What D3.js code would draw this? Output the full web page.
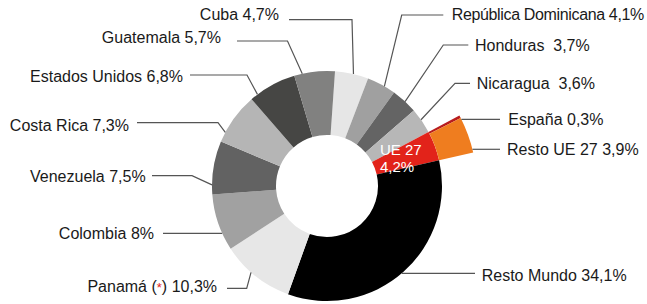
<!DOCTYPE html>
<html>
<head>
<meta charset="utf-8">
<script src="https://cdn.jsdelivr.net/npm/d3@7"></script>
<style>
  html, body { margin: 0; padding: 0; background: #fff; }
  svg { display: block; }
  .label { font-family: "Liberation Sans", Arial, sans-serif; font-size: 16px; fill: #1a1a1a; white-space: pre; }
  .leader { fill: none; stroke: #555; stroke-width: 1.2; }
</style>
</head>
<body>
<div id="chart"></div>
<script>
// main ring, clockwise from the top
const categories = ["Cuba", "República Dominicana", "Honduras", "Nicaragua", "UE 27", "Resto Mundo",
    "Panamá", "Colombia", "Venezuela", "Costa Rica", "Estados Unidos", "Guatemala"];
const values = [4.7, 4.1, 3.7, 3.6, 4.2, 34.1, 10.3, 8, 7.5, 7.3, 6.8, 5.7];
const colors = ["#e6e6e6", "#a0a0a0", "#646464", "#b7b7b7", "#e2231a", "#000000",
    "#e7e7e7", "#a1a1a1", "#626262", "#b5b5b5", "#464644", "#818180"];

// UE 27 breakdown, drawn as an exploded outer ring
const ueCategories = ["España", "Resto UE 27"];
const ueValues = [0.3, 3.9];
const ueColors = ["#b81c1e", "#ef7d1f"];

// separators between name and value in the printed labels
const separators = {"Honduras": "  ", "Nicaragua": "  "};
const notes = {"Panamá": "*"};

const width = 647, height = 304;
const cx = 327, cy = 186;
const innerR = 51, outerR = 115, ueR = 150;
const startAngle = 4 * Math.PI / 180;

// label placement: text anchor point, leader line start, elbow and where it meets the slice
const layout = {
    "Cuba":                 {x: 279,   y: 14.5,  anchor: "end",   lineY: 19.7,  from: 289,   elbow: 352,   t: 0.55},
    "República Dominicana": {x: 451.7, y: 14.7,  anchor: "start", lineY: 15,    from: 443.3, elbow: 401.7, t: 0.61, tight: true},
    "Honduras":             {x: 475,   y: 45,    anchor: "start", lineY: 45,    from: 468.3, elbow: 443.3, t: 0.53},
    "Nicaragua":            {x: 476.7, y: 83.3,  anchor: "start", lineY: 83.3,  from: 470,   elbow: 455,   t: 0.45},
    "Resto Mundo":          {x: 481.7, y: 275,   anchor: "start", lineY: 273.3, from: 475},
    "Panamá":               {x: 217,   y: 286.7, anchor: "end",   lineY: 288.3, from: 227,   elbow: 246.7, t: 0.58},
    "Colombia":             {x: 154,   y: 233,   anchor: "end",   lineY: 233.3, from: 163},
    "Venezuela":            {x: 145.7, y: 176,   anchor: "end",   lineY: 175.7, from: 152,   elbow: 192,   t: 0.18},
    "Costa Rica":           {x: 129,   y: 125,   anchor: "end",   lineY: 122.7, from: 137,   elbow: 218,   t: 0.195},
    "Estados Unidos":       {x: 183,   y: 76.5,  anchor: "end",   lineY: 75,    from: 190,   elbow: 247,   t: 0.155},
    "Guatemala":            {x: 221,   y: 37.5,  anchor: "end",   lineY: 41,    from: 237,   elbow: 287.5, t: 0.2},
    "España":               {x: 508.3, y: 119.5, anchor: "start", lineY: 119.3, from: 500},
    "Resto UE 27":          {x: 507,   y: 149.7, anchor: "start", lineY: 149.3, from: 500}
};

const fmt = (v) => String(v).replace(".", ",") + "%";

const svg = d3.select("#chart").append("svg")
    .attr("width", width)
    .attr("height", height);

const g = svg.append("g").attr("transform", `translate(${cx},${cy})`);

const pie = d3.pie().sort(null)
    .startAngle(startAngle)
    .endAngle(startAngle + 2 * Math.PI);

const slices = pie(values).map((d, i) => ({...d, name: categories[i], color: colors[i], r: outerR}));

const ueSlice = slices[categories.indexOf("UE 27")];
const uePie = d3.pie().sort(null)
    .startAngle(ueSlice.startAngle)
    .endAngle(ueSlice.endAngle);
const ueSlices = uePie(ueValues).map((d, i) => ({...d, name: ueCategories[i], color: ueColors[i], r: ueR}));

const arc = d3.arc().innerRadius(innerR).outerRadius(outerR);
const ueArc = d3.arc().innerRadius(outerR).outerRadius(ueR);

g.selectAll("path.slice")
    .data(slices)
    .join("path")
    .attr("class", "slice")
    .attr("d", arc)
    .attr("fill", d => d.color);

g.selectAll("path.ue")
    .data(ueSlices)
    .join("path")
    .attr("class", "ue")
    .attr("d", ueArc)
    .attr("fill", d => d.color);

// inner label of the UE 27 slice
const ueText = svg.append("text")
    .attr("class", "label")
    .style("fill", "#fff")
    .style("font-size", "15px")
    .attr("x", 380);
ueText.append("tspan").attr("x", 380).attr("y", 155).text("UE 27");
ueText.append("tspan").attr("x", 380).attr("y", 171.5).text(fmt(ueSlice.value));

// leader lines and outside labels
const labelled = slices.filter(d => layout[d.name]).concat(ueSlices);

function attachPoint(d, L) {
    if (L.t != null) {
        const a = d.startAngle + L.t * (d.endAngle - d.startAngle);
        return [cx + d.r * Math.sin(a), cy - d.r * Math.cos(a)];
    }
    const dy = L.lineY - cy;
    const dx = Math.sqrt(d.r * d.r - dy * dy) * (L.anchor === "start" ? 1 : -1);
    return [cx + dx, L.lineY];
}

const line = d3.line();

svg.selectAll("path.leader")
    .data(labelled)
    .join("path")
    .attr("class", "leader")
    .attr("d", d => {
        const L = layout[d.name];
        const pts = [[L.from, L.lineY]];
        if (L.elbow != null) pts.push([L.elbow, L.lineY]);
        pts.push(attachPoint(d, L));
        return line(pts);
    });

const labels = svg.selectAll("text.outer")
    .data(labelled)
    .join("text")
    .attr("class", "label outer")
    .attr("x", d => layout[d.name].x)
    .attr("y", d => layout[d.name].y + 5.7)
    .attr("text-anchor", d => layout[d.name].anchor)
    .style("letter-spacing", d => layout[d.name].tight ? "-0.35px" : null);

labels.each(function (d) {
    const t = d3.select(this);
    const sep = separators[d.name] || " ";
    if (notes[d.name]) {
        t.append("tspan").text(d.name + " (");
        t.append("tspan").style("fill", "#e2231a").style("font-size", "13px").text(notes[d.name]);
        t.append("tspan").text(")" + sep + fmt(d.value));
    } else {
        t.text(d.name + sep + fmt(d.value));
    }
});
</script>
</body>
</html>
